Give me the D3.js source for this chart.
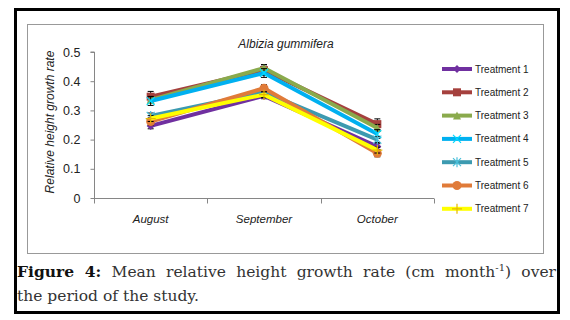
<!DOCTYPE html>
<html>
<head>
<meta charset="utf-8">
<script src="https://cdn.jsdelivr.net/npm/d3@7"></script>
<style>
  body { margin: 0; background: #fff; }
  #wrap { position: relative; width: 570px; height: 320px; }
  .cap { position: absolute; left: 17px; width: 539px; font-family: "DejaVu Serif", serif; font-size: 15.5px; color: #333; }
  #cap1 { top: 262px; text-align: justify; text-align-last: justify; }
  #cap2 { top: 287px; }
</style>
</head>
<body>
<div id="wrap">
  <div id="chart"></div>
  <div class="cap" id="cap1"><b style="color:#111">Figure 4:</b> Mean relative height growth rate (cm month<sup style="font-size:10px">-1</sup>) over</div>
  <div class="cap" id="cap2">the period of the study.</div>
</div>
<script>
const months = ["August", "September", "October"];
const seriesNames = ["Treatment 1", "Treatment 2", "Treatment 3", "Treatment 4", "Treatment 5", "Treatment 6", "Treatment 7"];
const t1 = [0.247, 0.350, 0.176];
const t2 = [0.347, 0.438, 0.253];
const t3 = [0.336, 0.445, 0.240];
const t4 = [0.332, 0.428, 0.219];
const t5 = [0.281, 0.363, 0.200];
const t6 = [0.262, 0.376, 0.153];
const t7 = [0.272, 0.354, 0.164];
const errs = [0.01, 0.018, 0.012, 0.015, 0.01, 0.012, 0.01];
const yTicks = [0, 0.1, 0.2, 0.3, 0.4, 0.5];

const colors = ["#7030A0", "#A5403D", "#8AAA4C", "#00B0F0", "#3C9AB0", "#E07B39", "#FFFF00"];
const symbols = ["diamond", "square", "triangle", "x", "star", "circle", "plus"];
const allSeries = [t1, t2, t3, t4, t5, t6, t7];

const svg = d3.select("#chart").append("svg")
  .attr("width", 570).attr("height", 320)
  .style("position", "absolute").style("left", 0).style("top", 0);

// outer frame and chart area
svg.append("rect").attr("x", 15.5).attr("y", 9.5).attr("width", 543).attr("height", 303)
  .attr("fill", "none").attr("stroke", "#000").attr("stroke-width", 3);
svg.append("rect").attr("x", 27.5).attr("y", 24.5).attr("width", 516).attr("height", 229)
  .attr("fill", "none").attr("stroke", "#999").attr("stroke-width", 1);

const x = d3.scaleBand().domain(months).range([94, 434]);
const y = d3.scaleLinear().domain([0, 0.5]).range([198, 52]);

// y axis
const yAxis = svg.append("g").attr("transform", "translate(94.5,0)")
  .call(d3.axisLeft(y).tickValues(yTicks).tickSize(4).tickPadding(10).tickFormat(d => d === 0 ? "0" : d3.format(".1f")(d)));
yAxis.selectAll("line, path").attr("stroke", "#868686");
yAxis.selectAll("text").style("font-family", "Liberation Sans, Arial, sans-serif").style("font-size", "12.5px").attr("fill", "#222");
yAxis.select(".domain").attr("d", "M-4," + y(0.5) + "H0V" + y(0));

// x axis
const xAxis = svg.append("g").attr("transform", "translate(0,198.5)");
xAxis.append("line").attr("x1", 94).attr("x2", 434).attr("stroke", "#868686");
xAxis.selectAll(".tk").data(months.map(m => x(m)).concat([434])).join("line")
  .attr("x1", d => Math.round(d) + 0.5).attr("x2", d => Math.round(d) + 0.5)
  .attr("y1", 0).attr("y2", 5).attr("stroke", "#868686");
xAxis.selectAll("text").data(months).join("text")
  .attr("x", d => x(d) + x.bandwidth() / 2).attr("y", 24)
  .attr("text-anchor", "middle")
  .style("font-family", "Liberation Sans, Arial, sans-serif").style("font-size", "11.5px").style("font-style", "italic")
  .attr("fill", "#222").text(d => d);

// title and y label
svg.append("text").attr("x", 286).attr("y", 48).attr("text-anchor", "middle")
  .style("font-family", "Liberation Sans, Arial, sans-serif").style("font-size", "12px").style("font-style", "italic")
  .attr("fill", "#222").text("Albizia gummifera");
svg.append("text").attr("transform", "translate(54,122) rotate(-90)").attr("text-anchor", "middle")
  .style("font-family", "Liberation Sans, Arial, sans-serif").style("font-size", "12px").style("font-style", "italic")
  .attr("fill", "#222").text("Relative height growth rate");

function marker(g, type, color, cx, cy) {
  const s = 4;
  if (type === "diamond") {
    g.append("path").attr("d", `M${cx},${cy - s}L${cx + s},${cy}L${cx},${cy + s}L${cx - s},${cy}Z`).attr("fill", color);
  } else if (type === "square") {
    g.append("rect").attr("x", cx - s).attr("y", cy - s).attr("width", 2 * s).attr("height", 2 * s).attr("fill", color);
  } else if (type === "triangle") {
    g.append("path").attr("d", `M${cx},${cy - s}L${cx + s},${cy + s}L${cx - s},${cy + s}Z`).attr("fill", color);
  } else if (type === "circle") {
    g.append("circle").attr("cx", cx).attr("cy", cy).attr("r", s + 0.5).attr("fill", color);
  } else {
    let d = "";
    if (type === "x" || type === "star") d += `M${cx - s},${cy - s}L${cx + s},${cy + s}M${cx - s},${cy + s}L${cx + s},${cy - s}`;
    if (type === "star" || type === "plus") d += `M${cx},${cy - s - 1}L${cx},${cy + s + 1}`;
    if (type === "plus") d += `M${cx - s - 1},${cy}L${cx + s + 1},${cy}`;
    g.append("path").attr("d", d).attr("stroke", type === "plus" ? "#E6B800" : d3.color(color).brighter(0.6)).attr("stroke-width", 1.2).attr("fill", "none");
  }
}

const line = d3.line().x((d, i) => x(months[i]) + x.bandwidth() / 2).y(d => y(d));

allSeries.forEach((vals, si) => {
  const g = svg.append("g");
  // error bars
  vals.forEach((v, i) => {
    const cx = x(months[i]) + x.bandwidth() / 2;
    const e = errs[si];
    g.append("path")
      .attr("d", `M${cx},${y(v - e)}V${y(v + e)}M${cx - 3},${y(v - e)}H${cx + 3}M${cx - 3},${y(v + e)}H${cx + 3}`)
      .attr("stroke", "#000").attr("stroke-width", 1).attr("fill", "none");
  });
  g.append("path").datum(vals).attr("d", line)
    .attr("fill", "none").attr("stroke", colors[si]).attr("stroke-width", 4).attr("stroke-linejoin", "round");
  vals.forEach((v, i) => marker(g, symbols[si], colors[si], x(months[i]) + x.bandwidth() / 2, y(v)));
});

// legend
const legend = svg.append("g");
seriesNames.forEach((name, i) => {
  const ly = 69 + i * 23.3;
  const lg = legend.append("g");
  lg.append("line").attr("x1", 442).attr("x2", 472).attr("y1", ly).attr("y2", ly)
    .attr("stroke", colors[i]).attr("stroke-width", 4);
  marker(lg, symbols[i], colors[i], 457, ly);
  lg.append("text").attr("x", 475).attr("y", ly + 3.5)
    .style("font-family", "Liberation Sans, Arial, sans-serif").style("font-size", "10px")
    .attr("fill", "#222").text(name);
});
</script>
</body>
</html>
